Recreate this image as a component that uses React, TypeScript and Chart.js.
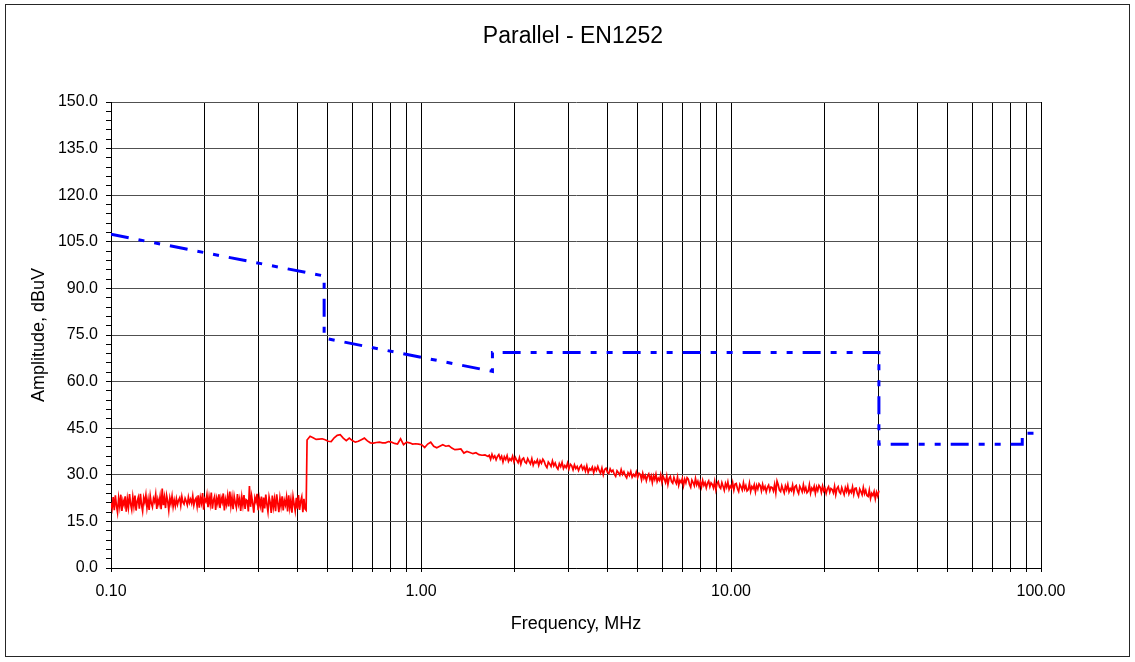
import { useEffect, useRef } from 'react';
import { Chart, registerables } from 'chart.js';

Chart.register(...registerables);

const TITLE = 'Parallel - EN1252';
const X_TITLE = 'Frequency, MHz';
const Y_TITLE = 'Amplitude, dBuV';

// x axis: logarithmic, gridlines at 1..9 x each decade
const X_DECADES = [0.1, 1, 10];
const X_MULTIPLES = [1, 2, 3, 4, 5, 6, 7, 8, 9];
const X_LAST = 100;
const X_LABELLED = [0.1, 1, 10, 100];

// y axis
const Y_MIN = 0;
const Y_MAX = 150;
const Y_MAJOR = 15;
const Y_MINOR = 3;

// limit line (blue, dash-dot-dot)
const limitFreq = [0.1, 0.487, 0.487, 1.7, 1.7, 30, 30, 87, 87, 95];
const limitLevel = [107.4, 94.0, 74.0, 63.3, 69.4, 69.4, 39.8, 39.8, 43.4, 43.4];

// measured trace (red), read in four sweep sections
const sweepARange = [0.1, 0.426];
const sweepAValues = [
  21.0, 19.2, 22.8, 18.6, 23.4, 20.1, 17.9, 22.5, 19.8, 23.6, 18.4, 21.7, 20.3, 23.1, 18.1, 22.2, 19.5, 23.8, 20.6, 18.8,
  22.9, 19.9, 23.3, 18.5, 21.4, 22.7, 19.1, 23.9, 20.4, 18.3, 22.6, 21.1, 23.5, 19.4, 22.0, 18.7, 23.2, 20.8, 19.6, 22.4,
  21.3, 23.7, 19.0, 22.1, 20.5, 23.0, 18.9, 25.6, 20.2, 22.8, 19.3, 23.4, 21.6, 18.6, 22.5, 20.7, 23.1, 19.7, 21.9, 20.0,
  22.3, 20.4, 21.8, 22.6, 20.1, 23.0, 21.2, 20.6, 22.4, 21.5, 20.3, 22.8, 21.0, 22.1, 20.8, 23.2, 20.2, 21.9, 22.5, 19.9,
  23.4, 19.4, 22.7, 20.9, 24.1, 18.8, 22.2, 21.4, 23.6, 19.6, 22.9, 20.5, 24.3, 19.1, 21.8, 23.0, 18.7, 22.4, 20.7, 23.7,
  19.3, 22.6, 21.2, 24.0, 18.5, 22.1, 20.4, 23.3, 19.8, 24.6, 20.0, 22.8, 18.9, 23.1, 21.0, 19.5, 23.8, 20.6, 22.3, 18.4,
  22.9, 20.2, 23.5, 19.0, 22.0, 21.7, 18.2, 26.4, 19.7, 23.2, 20.8, 17.8, 22.6, 21.3, 23.9, 18.6, 22.4, 20.1, 23.0, 17.9,
  22.7, 19.2, 23.6, 20.5, 18.1, 22.9, 21.1, 17.7, 23.3, 19.6, 22.2, 18.3, 23.7, 20.9, 18.0, 22.5, 19.9, 23.1, 18.5, 21.8,
  20.3, 22.8, 18.2, 23.4, 19.4, 22.0, 17.8, 23.0, 20.6, 18.4, 22.6, 19.1, 23.5, 18.7, 21.5, 22.9, 18.0, 22.3, 19.0, 18.6,
];

const sweepBRange = [0.429, 1.645];
const sweepBValues = [
  41.2, 42.4, 41.9, 41.4, 41.5, 41.6, 41.3, 40.8, 40.7, 41.9, 42.7, 42.9, 41.8, 41.0, 41.8, 41.0, 40.5, 40.8, 41.3, 41.8,
  40.9, 40.3, 40.2, 40.4, 40.5, 40.3, 40.3, 40.7, 40.5, 40.1, 39.9, 41.6, 39.7, 40.5, 40.3, 39.9, 40.0, 39.9, 39.7, 38.8,
  39.9, 40.5, 39.2, 38.7, 39.2, 39.7, 39.2, 39.4, 38.6, 38.1, 38.2, 38.3, 37.0, 37.5, 37.2, 36.8, 37.1, 36.5, 36.3, 36.4,
  35.9,
];

const sweepCRange = [1.66, 5.05];
const sweepCValues = [
  36.3, 35.0, 36.6, 35.4, 36.1, 34.8, 35.9, 36.5, 35.1, 36.0,
  34.1, 35.8, 34.9, 36.2, 34.3, 35.2, 34.6, 36.0, 34.2, 35.6,
  34.7, 33.9, 35.5, 33.4, 35.0, 35.4, 34.1, 33.7, 35.2, 34.3,
  33.5, 35.2, 33.1, 34.3, 33.8, 34.8, 33.0, 34.6, 33.7, 35.0,
  34.3, 33.0, 32.3, 34.1, 33.5, 32.7, 34.5, 32.9, 33.8, 32.5,
  31.8, 33.6, 32.6, 34.0, 32.0, 33.0, 32.3, 33.8, 31.9, 33.4,
  32.9, 31.6, 33.2, 32.0, 32.7, 31.4, 32.5, 33.1, 31.7, 32.6,
  31.2, 32.9, 30.8, 32.0, 31.5, 32.5, 30.7, 32.3, 31.4, 32.7,
  31.4, 30.5, 32.2, 30.0, 31.7, 32.1, 30.8, 30.4, 31.9, 31.0,
  31.5, 30.2, 29.5, 31.3, 30.7, 29.9, 31.7, 30.1, 31.0, 29.7,
  29.0, 30.7, 29.8, 31.1, 29.2, 30.1, 29.5, 30.9, 29.1, 30.5,
];

const sweepDRange = [5.1, 30];
const sweepDValues = [
  30.1, 28.4, 30.5, 28.9, 29.8, 28.1, 29.6, 30.3, 28.5, 29.7,
  27.5, 29.7, 28.5, 30.2, 27.8, 28.9, 28.2, 30.0, 27.6, 29.5,
  28.6, 27.5, 29.6, 26.9, 28.9, 29.5, 27.8, 27.3, 29.2, 28.0,
  27.2, 29.3, 26.6, 28.2, 27.5, 28.8, 26.5, 28.6, 27.4, 29.1,
  28.6, 26.9, 26.0, 28.3, 27.5, 26.5, 28.8, 26.8, 27.9, 26.2,
  27.8, 26.1, 28.2, 26.6, 27.5, 25.8, 27.3, 28.0, 26.2, 27.4,
  26.9, 25.8, 27.9, 25.2, 27.2, 27.8, 26.1, 25.6, 27.5, 26.3,
  25.0, 27.2, 26.0, 27.7, 25.3, 26.4, 25.7, 27.5, 25.1, 27.0,
  27.2, 25.5, 24.6, 26.9, 26.1, 25.1, 27.4, 25.4, 26.5, 24.8,
  25.2, 27.3, 24.6, 26.2, 25.5, 26.8, 24.5, 26.6, 25.4, 27.1,
  26.5, 24.8, 26.9, 25.3, 26.2, 24.5, 26.0, 26.7, 24.9, 26.1,
  25.9, 24.8, 26.9, 24.2, 28.0, 26.8, 25.1, 24.6, 26.5, 25.3,
  24.2, 26.4, 25.2, 26.9, 24.5, 25.6, 24.9, 26.7, 24.3, 26.2,
  26.6, 24.9, 24.0, 26.3, 25.5, 24.5, 26.8, 24.8, 25.9, 24.2,
  24.7, 26.8, 24.1, 25.7, 25.0, 26.3, 24.0, 26.1, 24.9, 26.6,
  26.0, 24.3, 26.4, 24.8, 25.7, 24.0, 25.5, 26.2, 24.4, 25.6,
  25.3, 24.2, 26.3, 23.6, 25.6, 26.2, 24.5, 24.0, 25.9, 24.7,
  23.6, 25.8, 24.6, 26.3, 23.9, 25.0, 24.3, 26.1, 23.7, 25.6,
  25.7, 24.0, 23.1, 25.4, 24.6, 23.6, 25.9, 23.9, 25.0, 23.3,
  23.0, 25.1, 22.4, 24.0, 23.3, 24.6, 22.3, 24.4, 23.2, 24.9,
];

const FONT = "'Liberation Sans', Arial, Helvetica, sans-serif";

// sweep sample frequencies are spread evenly (log) across each section's range
function sweepPoints(range: number[], values: number[]) {
  const [f0, f1] = range;
  const n = values.length;
  return values.map((v, i) => ({ x: f0 * Math.pow(f1 / f0, n > 1 ? i / (n - 1) : 0), y: v }));
}

const xTickValues: number[] = [];
X_DECADES.forEach((d) => X_MULTIPLES.forEach((m) => xTickValues.push(d * m)));
xTickValues.push(X_LAST);

const framePlugin: any = {
  id: 'frameAndTitle',
  afterDraw(chart: any) {
    const { ctx } = chart;
    ctx.save();
    ctx.strokeStyle = '#262626';
    ctx.lineWidth = 1;
    ctx.strokeRect(5.5, 4.5, 1124, 652);
    ctx.fillStyle = '#000';
    ctx.font = `23px ${FONT}`;
    ctx.textAlign = 'center';
    ctx.textBaseline = 'middle';
    ctx.fillText(TITLE, 573, 37);
    ctx.restore();
  },
};

export default function App() {
  const ref = useRef<HTMLCanvasElement>(null);

  useEffect(() => {
    document.body.style.margin = '0';
    document.body.style.overflow = 'hidden';
    const measured = [
      ...sweepPoints(sweepARange, sweepAValues),
      ...sweepPoints(sweepBRange, sweepBValues),
      ...sweepPoints(sweepCRange, sweepCValues),
      ...sweepPoints(sweepDRange, sweepDValues),
    ];
    const limit = limitFreq.map((f, i) => ({ x: f, y: limitLevel[i] }));

    Chart.defaults.font.family = FONT;
    Chart.defaults.color = '#000';

    const chart = new Chart(ref.current as HTMLCanvasElement, {
      type: 'line',
      data: {
        datasets: [
          {
            label: 'Limit',
            data: limit,
            borderColor: '#0000ff',
            borderWidth: 3,
            borderDash: [18, 10, 6, 10, 6, 10],
            borderCapStyle: 'butt',
            pointRadius: 0,
            fill: false,
          },
          {
            label: 'Measured',
            data: measured,
            borderColor: '#ff0000',
            borderWidth: 1.7,
            pointRadius: 0,
            fill: false,
          },
        ],
      },
      options: {
        responsive: false,
        animation: false,
        devicePixelRatio: 1,
        layout: { padding: { left: 0, right: 94, top: 102, bottom: 0 } },
        plugins: {
          legend: { display: false },
          title: { display: false },
          tooltip: { enabled: false },
        },
        elements: { line: { tension: 0 } },
        scales: {
          x: {
            type: 'logarithmic',
            min: 0.1,
            max: 100,
            afterBuildTicks: (scale: any) => {
              scale.ticks = xTickValues.map((v) => ({ value: v }));
            },
            afterFit: (scale: any) => {
              scale.height = 94;
            },
            ticks: {
              autoSkip: false,
              maxRotation: 0,
              minRotation: 0,
              padding: 10,
              color: '#000',
              font: { size: 16, family: FONT },
              callback: (value: any) => {
                const v = Number(value);
                return X_LABELLED.some((d) => Math.abs(d - v) < 1e-9) ? v.toFixed(2) : '';
              },
            },
            grid: { color: '#000', tickColor: '#000', tickLength: 4, lineWidth: 1 },
            border: { color: '#000', width: 1 },
            title: {
              display: true,
              text: X_TITLE,
              color: '#000',
              font: { size: 18, family: FONT },
              padding: { top: 0, bottom: 27 },
            },
          },
          y: {
            type: 'linear',
            min: Y_MIN,
            max: Y_MAX,
            afterFit: (scale: any) => {
              scale.width = 111;
            },
            ticks: {
              stepSize: Y_MINOR,
              autoSkip: false,
              padding: 8,
              color: '#000',
              font: { size: 16, family: FONT },
              callback: (value: any) => {
                const v = Number(value);
                return Math.abs(v % Y_MAJOR) < 1e-6 ? v.toFixed(1) : '';
              },
            },
            grid: {
              color: (ctx: any) =>
                ctx.tick && Math.abs(ctx.tick.value % Y_MAJOR) < 1e-6 ? '#505050' : 'rgba(0,0,0,0)',
              tickColor: '#000',
              tickLength: 5,
              lineWidth: 1,
            },
            border: { color: '#000', width: 1 },
            title: {
              display: true,
              text: Y_TITLE,
              color: '#000',
              font: { size: 18, family: FONT },
              padding: { top: 28, bottom: 0 },
            },
          },
        },
      },
      plugins: [framePlugin],
    } as any);

    return () => chart.destroy();
  }, []);

  return (
    <canvas
      ref={ref}
      width={1135}
      height={662}
      style={{ display: 'block', width: 1135, height: 662 }}
    />
  );
}
